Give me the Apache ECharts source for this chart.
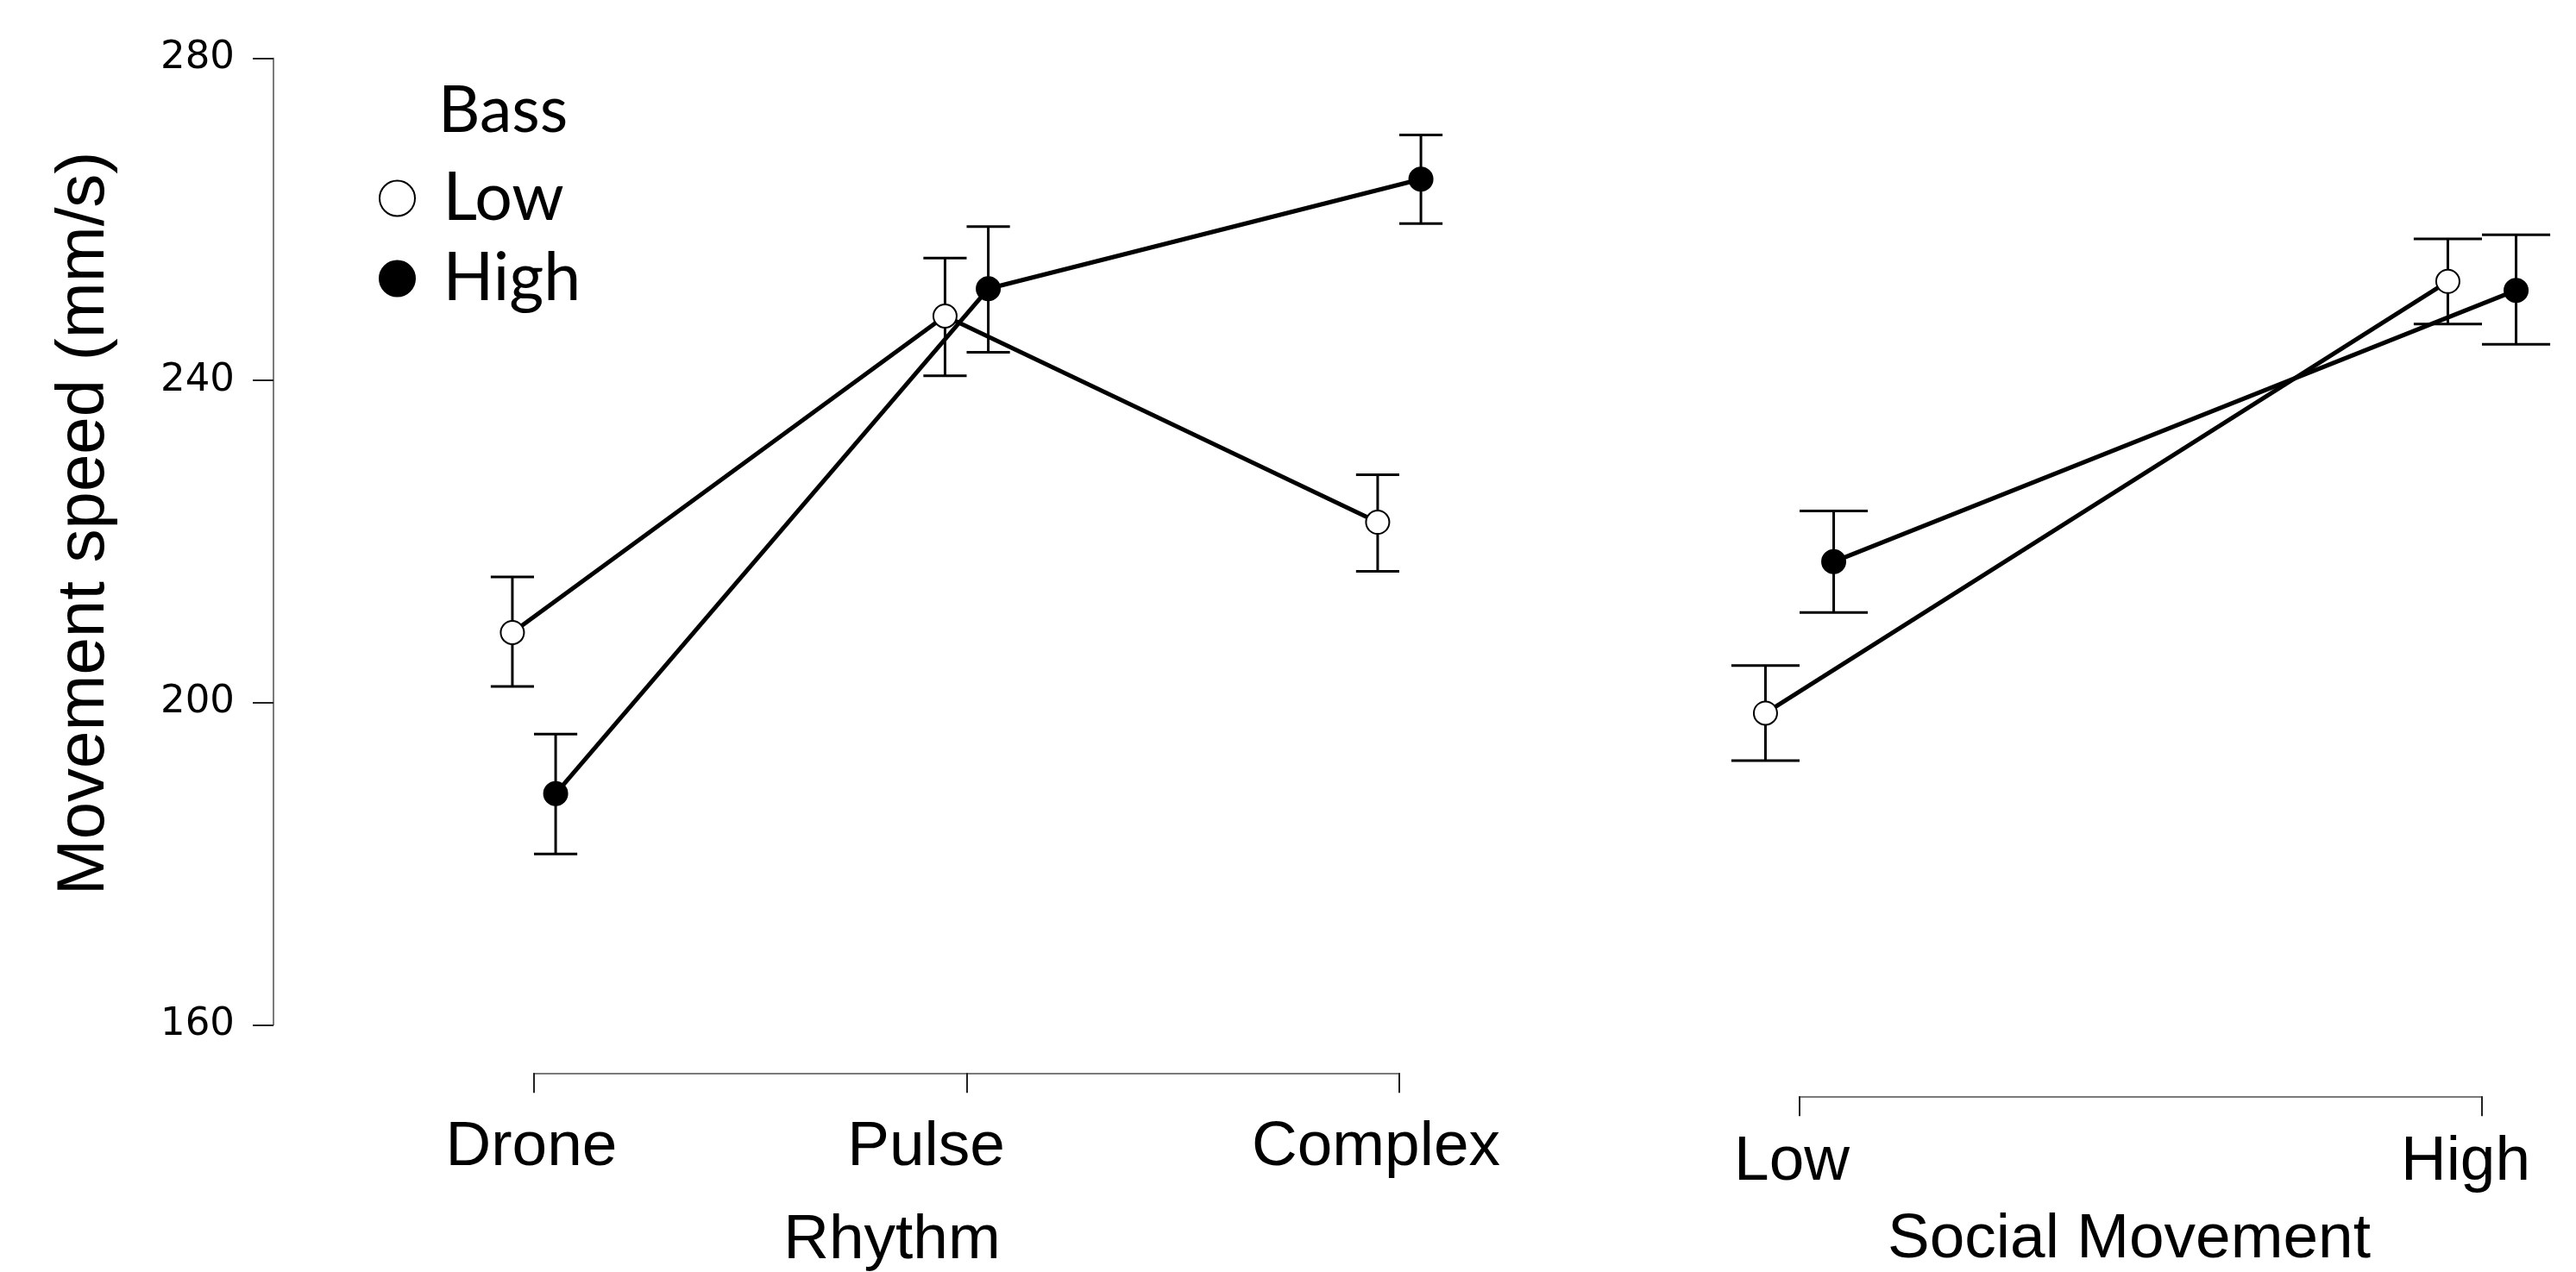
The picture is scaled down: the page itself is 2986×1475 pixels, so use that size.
<!DOCTYPE html>
<html>
<head>
<meta charset="utf-8">
<script src="https://cdn.jsdelivr.net/npm/echarts@6/dist/echarts.min.js"></script>
<style>
html, body { margin: 0; padding: 0; background: #fff; }
#chart { width: 2986px; height: 1475px; }
</style>
</head>
<body>
<div id="chart"></div>
<script>
// values
var rhythmLevels = ['Drone', 'Pulse', 'Complex'];
var socialLevels = ['Low', 'High'];
var bassLevels = ['Low', 'High'];
var yTicks = [160, 200, 240, 280];

var rhythmLowMean = [208.7, 248.0, 222.4];
var rhythmLowUpper = [215.6, 255.2, 228.3];
var rhythmLowLower = [202.0, 240.6, 216.3];
var rhythmHighMean = [188.7, 251.4, 265.0];
var rhythmHighUpper = [196.1, 259.1, 270.5];
var rhythmHighLower = [181.2, 243.5, 259.5];

var socialLowMean = [198.7, 252.3];
var socialLowUpper = [204.6, 257.6];
var socialLowLower = [192.8, 247.0];
var socialHighMean = [217.5, 251.2];
var socialHighUpper = [223.8, 258.1];
var socialHighLower = [211.2, 244.5];

const DODGE = 0.05;
const CAP = 0.1;
const SANS = '"Liberation Sans", Arial, sans-serif';
const HUMAN = 'Lato, "Liberation Sans", sans-serif';
const TICK_FONT = '"DejaVu Sans", sans-serif';
const AXIS_GRAY = '#7a7a7a';

// shifts R gave its tick labels
const labelPad = {Drone: 6, Pulse: 94, Complex: 54, Low: 18, High: 38};

var points = function (means, shift) {
    return means.map(function (m, i) { return [i + 1 + shift, m]; });
};

// consecutive points joined as segments, so they are not clipped at the axis ends
var segments = function (means, shift) {
    var out = [];
    for (var i = 0; i < means.length - 1; i++) {
        out.push([i + 1 + shift, means[i], i + 2 + shift, means[i + 1]]);
    }
    return out;
};

var bars = function (lower, upper, shift) {
    return lower.map(function (lo, i) { return [i + 1 + shift, lo, upper[i]]; });
};

var renderBar = function (params, api) {
    var x = api.value(0);
    var lo = api.coord([x, api.value(1)]);
    var hi = api.coord([x, api.value(2)]);
    var half = api.coord([x + CAP / 2, api.value(1)])[0] - lo[0];
    var style = {stroke: '#000', lineWidth: 3};
    return {
        type: 'group',
        children: [
            {type: 'line', shape: {x1: lo[0], y1: lo[1], x2: hi[0], y2: hi[1]}, style: style},
            {type: 'line', shape: {x1: lo[0] - half, y1: lo[1], x2: lo[0] + half, y2: lo[1]}, style: style},
            {type: 'line', shape: {x1: hi[0] - half, y1: hi[1], x2: hi[0] + half, y2: hi[1]}, style: style}
        ]
    };
};

var renderSegment = function (params, api) {
    var a = api.coord([api.value(0), api.value(1)]);
    var b = api.coord([api.value(2), api.value(3)]);
    return {
        type: 'line',
        shape: {x1: a[0], y1: a[1], x2: b[0], y2: b[1]},
        style: {stroke: '#000', lineWidth: 5}
    };
};

var richFor = function (levels) {
    var rich = {};
    levels.forEach(function (name) {
        rich[name] = {fontSize: 73, fontFamily: SANS, color: '#000', padding: [0, labelPad[name] || 0, 0, 0]};
    });
    return rich;
};

var catAxis = function (gridIndex, levels, name, offset, margin, nameGap, namePad) {
    return {
        type: 'value',
        gridIndex: gridIndex,
        min: 1,
        max: levels.length,
        interval: 1,
        offset: offset,
        splitLine: {show: false},
        axisLine: {show: true, lineStyle: {color: AXIS_GRAY, width: 2}},
        axisTick: {show: true, length: 23, lineStyle: {color: '#222', width: 2}},
        axisLabel: {
            margin: margin,
            showMinLabel: true,
            showMaxLabel: true,
            formatter: function (v) {
                var n = levels[Math.round(v) - 1];
                return '{' + n + '|' + n + '}';
            },
            rich: richFor(levels)
        },
        name: name,
        nameLocation: 'middle',
        nameGap: nameGap,
        nameMoveOverlap: false,
        nameTextStyle: {fontSize: 73, fontFamily: SANS, color: '#000', padding: [0, namePad, 0, 0]}
    };
};

var markSeries = function (name, data, xi, filled) {
    return {
        type: 'scatter',
        name: name,
        xAxisIndex: xi,
        yAxisIndex: xi,
        data: data,
        clip: false,
        z: 5,
        symbol: 'circle',
        symbolSize: 27,
        itemStyle: {color: filled ? '#000' : '#fff', borderColor: '#000', borderWidth: 2, opacity: 1},
        emphasis: {disabled: true}
    };
};

var customSeries = function (data, xi, render, enc, z) {
    return {
        type: 'custom',
        xAxisIndex: xi,
        yAxisIndex: xi,
        data: data,
        clip: false,
        z: z,
        encode: enc,
        renderItem: render
    };
};

var chart = echarts.init(document.getElementById('chart'));

var barEnc = {x: 0, y: [1, 2]};
var segEnc = {x: [0, 2], y: [1, 3]};

chart.setOption({
    animation: false,
    backgroundColor: '#fff',
    title: {
        text: 'Bass',
        left: 503,
        top: 86,
        textStyle: {fontSize: 75, fontWeight: 'normal', fontFamily: HUMAN, color: '#000'}
    },
    legend: {
        orient: 'vertical',
        left: 434,
        top: 185,
        itemWidth: 96,
        itemHeight: 41,
        itemGap: 13,
        selectedMode: false,
        textStyle: {fontSize: 77, lineHeight: 80, fontFamily: HUMAN, color: '#000'},
        data: [
            {name: bassLevels[0], icon: 'circle', itemStyle: {color: '#fff', borderColor: '#000', borderWidth: 2}},
            {name: bassLevels[1], icon: 'circle', itemStyle: {color: '#000', borderColor: '#000', borderWidth: 2}}
        ]
    },
    grid: [
        {left: 619, right: 1364, top: 67.7, bottom: 286.7, outerBoundsMode: 'none'},
        {left: 2086, right: 109, top: 67.7, bottom: 286.7, outerBoundsMode: 'none'}
    ],
    xAxis: [
        catAxis(0, rhythmLevels, 'Rhythm', 56, 50, 158, 173),
        catAxis(1, socialLevels, 'Social Movement', 83, 40, 130, 27)
    ],
    yAxis: [
        {
            type: 'value',
            gridIndex: 0,
            min: yTicks[0],
            max: yTicks[yTicks.length - 1],
            interval: yTicks[1] - yTicks[0],
            offset: 302,
            splitLine: {show: false},
            axisLine: {show: true, lineStyle: {color: AXIS_GRAY, width: 2}},
            axisTick: {show: true, length: 24, lineStyle: {color: '#222', width: 2}},
            axisLabel: {margin: 45, fontSize: 45, fontFamily: TICK_FONT, color: '#000'},
            name: 'Movement speed (mm/s)',
            nameLocation: 'middle',
            nameGap: 180,
            nameMoveOverlap: false,
            nameTextStyle: {fontSize: 78, fontFamily: SANS, color: '#000', padding: [0, 0, 0, 42]}
        },
        {
            type: 'value',
            gridIndex: 1,
            min: yTicks[0],
            max: yTicks[yTicks.length - 1],
            interval: yTicks[1] - yTicks[0],
            show: false
        }
    ],
    series: [
        customSeries(bars(rhythmLowLower, rhythmLowUpper, -DODGE), 0, renderBar, barEnc, 2),
        customSeries(bars(rhythmHighLower, rhythmHighUpper, DODGE), 0, renderBar, barEnc, 2),
        customSeries(bars(socialLowLower, socialLowUpper, -DODGE), 1, renderBar, barEnc, 2),
        customSeries(bars(socialHighLower, socialHighUpper, DODGE), 1, renderBar, barEnc, 2),
        customSeries(segments(rhythmLowMean, -DODGE), 0, renderSegment, segEnc, 3),
        customSeries(segments(rhythmHighMean, DODGE), 0, renderSegment, segEnc, 3),
        customSeries(segments(socialLowMean, -DODGE), 1, renderSegment, segEnc, 3),
        customSeries(segments(socialHighMean, DODGE), 1, renderSegment, segEnc, 3),
        markSeries(bassLevels[0], points(rhythmLowMean, -DODGE), 0, false),
        markSeries(bassLevels[1], points(rhythmHighMean, DODGE), 0, true),
        markSeries(bassLevels[0], points(socialLowMean, -DODGE), 1, false),
        markSeries(bassLevels[1], points(socialHighMean, DODGE), 1, true)
    ]
});
</script>
</body>
</html>
